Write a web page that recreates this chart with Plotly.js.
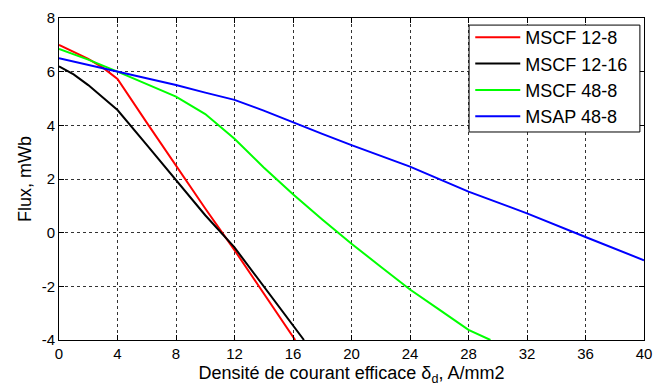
<!DOCTYPE html>
<html>
<head>
<meta charset="utf-8">
<script src="https://cdn.plot.ly/plotly-3.0.1.min.js"></script>
<style>html,body{margin:0;padding:0;background:#fff;}#chart{width:656px;height:390px;}</style>
</head>
<body>
<div id="chart"></div>
<script>
// Data
const seriesNames = ["MSCF 12-8", "MSCF 12-16", "MSCF 48-8", "MSAP 48-8"];

const x_mscf12_8 = [0, 1, 2, 3, 4, 6, 8, 10, 12, 14, 16, 16.15];
const y_mscf12_8 = [7.0, 6.75, 6.48, 6.15, 5.73, 4.1, 2.5, 0.9, -0.65, -2.25, -3.85, -4.0];

const x_mscf12_16 = [0, 1, 2, 3, 4, 6, 8, 10, 12, 14, 16, 16.75];
const y_mscf12_16 = [6.2, 5.9, 5.5, 5.05, 4.57, 3.27, 1.98, 0.65, -0.55, -2.0, -3.45, -4.0];

const x_mscf48_8 = [0, 2, 4, 6, 8, 10, 12, 14, 16, 18, 20, 22, 24, 26, 28, 29.5];
const y_mscf48_8 = [6.85, 6.45, 6.0, 5.55, 5.07, 4.42, 3.5, 2.43, 1.43, 0.49, -0.41, -1.27, -2.12, -2.87, -3.62, -4.0];

const x_msap48_8 = [0, 2, 4, 6, 8, 10, 12, 14, 16, 18, 20, 24, 28, 32, 36, 40];
const y_msap48_8 = [6.5, 6.25, 6.0, 5.75, 5.5, 5.22, 4.95, 4.55, 4.1, 3.68, 3.26, 2.46, 1.53, 0.72, -0.16, -1.03];

const xTicks = [0, 4, 8, 12, 16, 20, 24, 28, 32, 36, 40];
const yTicks = [-4, -2, 0, 2, 4, 6, 8];

const colors = ["#ff0000", "#000000", "#00ff00", "#0000ff"];
const xs = [x_mscf12_8, x_mscf12_16, x_mscf48_8, x_msap48_8];
const ys = [y_mscf12_8, y_mscf12_16, y_mscf48_8, y_msap48_8];

const traces = seriesNames.map((n, i) => ({
  x: xs[i], y: ys[i], name: n, type: "scatter", mode: "lines",
  line: {color: colors[i], width: 2}
}));

const font = {family: "Liberation Sans, Arial, sans-serif", color: "#000"};

const layout = {
  width: 656, height: 390,
  margin: {l: 59, r: 12, t: 18, b: 50},
  paper_bgcolor: "#fff", plot_bgcolor: "#fff",
  font: Object.assign({size: 15}, font),
  showlegend: true,
  legend: {
    x: 0.703, y: 0.997, xanchor: "left", yanchor: "top",
    bgcolor: "rgba(0,0,0,0)", borderwidth: 0,
    font: Object.assign({size: 18}, font),
    itemwidth: 45,
    tracegroupgap: 0
  },
  shapes: [{
    type: "rect", xref: "paper", yref: "paper", layer: "above",
    x0: 0.701, x1: 0.993, y0: 0.646, y1: 0.978,
    fillcolor: "#fff", line: {color: "#000", width: 1}
  }],
  xaxis: {
    range: [0, 40], tickvals: xTicks, ticktext: xTicks.map(String),
    showline: true, linecolor: "#000", linewidth: 1, mirror: "ticks",
    ticks: "inside", ticklen: 5, tickcolor: "#000",
    showgrid: true, gridcolor: "#333", griddash: "dot", gridwidth: 1,
    zeroline: false,
    tickfont: Object.assign({size: 15}, font),
    title: {text: "Densité de courant efficace δ<sub>d</sub>, A/mm2", font: Object.assign({size: 18}, font), standoff: 5}
  },
  yaxis: {
    range: [-4, 8], tickvals: yTicks, ticktext: yTicks.map(String),
    showline: true, linecolor: "#000", linewidth: 1, mirror: "ticks",
    ticks: "inside", ticklen: 5, tickcolor: "#000",
    showgrid: true, gridcolor: "#333", griddash: "dot", gridwidth: 1,
    zeroline: false,
    tickfont: Object.assign({size: 15}, font),
    title: {text: "Flux, mWb", font: Object.assign({size: 18}, font), standoff: 5}
  }
};

Plotly.newPlot("chart", traces, layout, {displayModeBar: false, staticPlot: true});
</script>
</body>
</html>
